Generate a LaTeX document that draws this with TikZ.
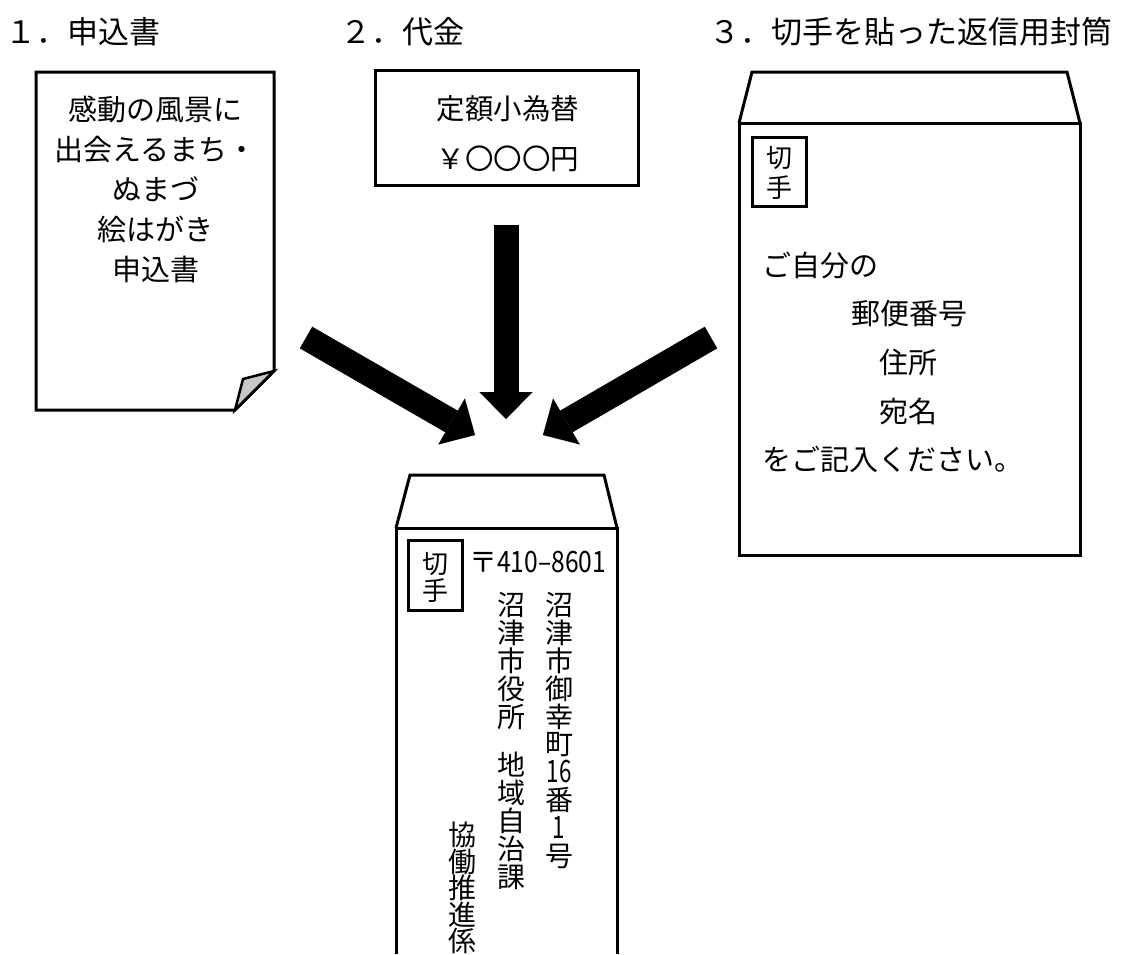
\documentclass[tikz,border=0pt]{standalone}
\usepackage{fontspec}
\usepackage{graphicx}
\setmainfont{Noto Sans CJK JP}
\usetikzlibrary{arrows.meta}
\begin{document}
\begin{tikzpicture}[x=1pt,y=-1pt,line join=miter,
  outline/.style={draw=black,line width=3pt},
  stampbox/.style={draw=black,line width=3pt},
  title/.style={inner sep=0pt,anchor=west,font=\fontsize{31pt}{36pt}\selectfont},
  body/.style={inner sep=0pt,font=\fontsize{29pt}{40pt}\selectfont},
  vcol/.style={inner sep=0pt,align=center,anchor=north},
  bigarrow/.style={line width=25pt,-{Triangle[width=53pt,length=27pt,line width=0.01pt]}}]
\useasboundingbox (0,0) rectangle (1123,954);

% titles
\node[title] (t1) at (5,32) {１．申込書};
\node[title] (t2) at (340,32) {２．代金};
\node[title] (t3) at (709,32) {３．切手を貼った返信用封筒};

% 1. application form (sheet with folded corner)
\draw[outline,fill=white] (36,72) -- (274,72) -- (274,371) -- (235,410) -- (36,410) -- cycle;
\draw[outline,line width=2.5pt,fill=black!22] (274,371) -- (243,379) -- (235,410) -- cycle;
\node[body,align=center,anchor=north] (form) at (155.5,96)
  {感動の風景に\\出会えるまち・\\ぬまづ\\絵はがき\\申込書};

% 2. money order
\draw[outline] (375,70) rectangle (638,185);
\node[body,align=center,anchor=north,font=\fontsize{28.5pt}{50pt}\selectfont] (money) at (508,95)
  {定額小為替\\￥〇〇〇円};

% 3. return envelope
\draw[outline] (739,123) -- (752,72) -- (1067,72) -- (1080,123);
\draw[outline] (739,123) rectangle (1080,555);
\draw[stampbox] (752,137) rectangle (806,206);
\node[vcol,font=\fontsize{26pt}{30pt}\selectfont] (stamp3) at (779,146) {切\\手};
\node[body,anchor=west] (r1) at (762,266) {ご自分の};
\node[body] (r2) at (909,314) {郵便番号};
\node[body] (r3) at (908,362) {住所};
\node[body] (r4) at (908,411) {宛名};
\node[body,anchor=west] (r5) at (762,459) {をご記入ください。};

% destination envelope
\draw[outline] (396,528) -- (410,475) -- (604,475) -- (617,528);
\draw[outline] (396,954) -- (396,528) -- (617,528) -- (617,954);
\draw[stampbox] (408,540) rectangle (462,610);
\node[vcol,font=\fontsize{26pt}{27pt}\selectfont] (stamp) at (435,552) {切\\手};
\node[inner sep=0pt,anchor=west,font=\fontsize{28pt}{30pt}\selectfont] (zip) at (469,562)
  {〒\scalebox{0.88}[1.05]{410–8601}};
\node[vcol,font={\fontsize{28pt}{27.9pt}\selectfont\lineskiplimit=-100pt}] (addr) at (559,592)
  {沼\\津\\市\\御\\幸\\町\\\scalebox{0.8}[1.1]{16}\\番\\\scalebox{0.8}[1.1]{1}\\号};
\node[vcol,font={\fontsize{28pt}{28pt}\selectfont\lineskiplimit=-100pt}] (office) at (511,592)
  {沼\\津\\市\\役\\所\\[20pt]地\\域\\自\\治\\課};
\node[vcol,font={\fontsize{28pt}{26.5pt}\selectfont\lineskiplimit=-100pt}] (section) at (462,822)
  {協\\働\\推\\進\\係};

% arrows
\coordinate (a1s) at (306,337.5);
\coordinate (a1e) at (475,435);
\coordinate (a2s) at (506,225);
\coordinate (a2e) at (506,419);
\coordinate (a3s) at (711,337.5);
\coordinate (a3e) at (543,435);
\draw[bigarrow] (a1s) -- (a1e);
\draw[bigarrow] (a2s) -- (a2e);
\draw[bigarrow] (a3s) -- (a3e);
\end{tikzpicture}
\end{document}
